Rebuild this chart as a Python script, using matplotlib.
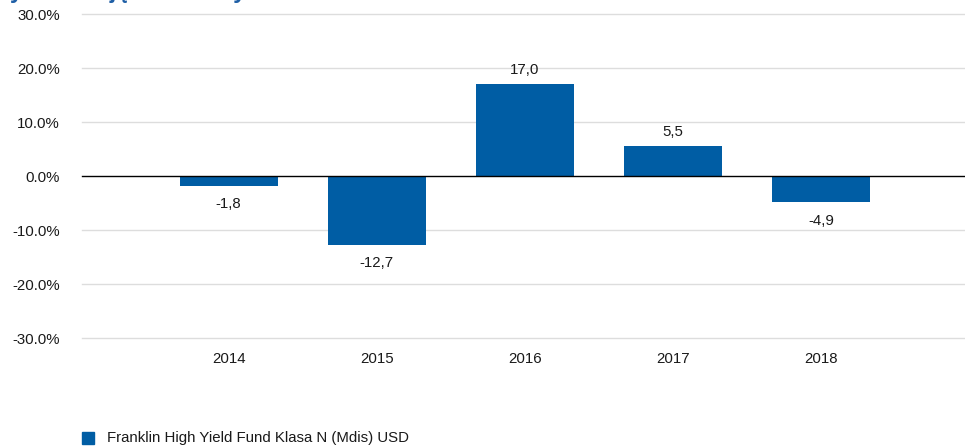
import matplotlib.pyplot as plt
from matplotlib.patches import Rectangle

plt.rcParams['font.family'] = ['Liberation Sans', 'DejaVu Sans']

years = ['2014', '2015', '2016', '2017', '2018']
returns = [-1.8, -12.7, 17.0, 5.5, -4.9]
series_name = 'Franklin High Yield Fund Klasa N (Mdis) USD'
yticks = [-30, -20, -10, 0, 10, 20, 30]

blue = '#005DA4'
txt = '#1a1a1a'
fs = 10.8

fig = plt.figure(figsize=(9.65, 4.47), dpi=100)
ax = fig.add_axes([82 / 965, 1 - 338 / 447, 1 - 82 / 965, (338 - 14) / 447])

x = range(len(years))
ax.bar(x, returns, width=0.66, color=blue, zorder=3)

for xi, v in zip(x, returns):
    lab = f'{v:.1f}'.replace('.', ',')
    if v >= 0:
        ax.annotate(lab, (xi, v), xytext=(0, 5), textcoords='offset points',
                    ha='center', va='bottom', fontsize=fs, color=txt)
    else:
        ax.annotate(lab, (xi, v), xytext=(0, -8), textcoords='offset points',
                    ha='center', va='top', fontsize=fs, color=txt)

ax.set_xlim(-0.99, 4.97)
ax.set_ylim(-30, 30)
ax.set_yticks(yticks)
ax.set_yticklabels([f'{t:.1f}%' for t in yticks], fontsize=fs, color=txt)
ax.set_xticks(list(x))
ax.set_xticklabels(years, fontsize=fs, color=txt)
ax.tick_params(length=0)
ax.tick_params(axis='y', pad=16)
ax.tick_params(axis='x', pad=10)

for t in yticks:
    if t == 0:
        ax.axhline(0, color='black', lw=1, zorder=4, clip_on=False)
    else:
        ax.axhline(t, color='#dddddd', lw=1, zorder=1, clip_on=False)

for s in ax.spines.values():
    s.set_visible(False)

# legend entry at the bottom
fig.patches.append(Rectangle((82 / 965, 1 - 444 / 447), 12 / 965, 12 / 447,
                             transform=fig.transFigure, color=blue))
fig.text(107 / 965, 1 - 438 / 447, series_name, fontsize=fs,
         va='center', ha='left', color=txt)

# title sits above the top edge, only the descenders show
fig.text(-0.012, 1.0 + 2 / 447, 'Wyniki w ujęciu rocznym', fontsize=17,
         fontweight='bold', color='#1F5FA6', va='baseline', ha='left')

fig.savefig('out.png', dpi=100)
